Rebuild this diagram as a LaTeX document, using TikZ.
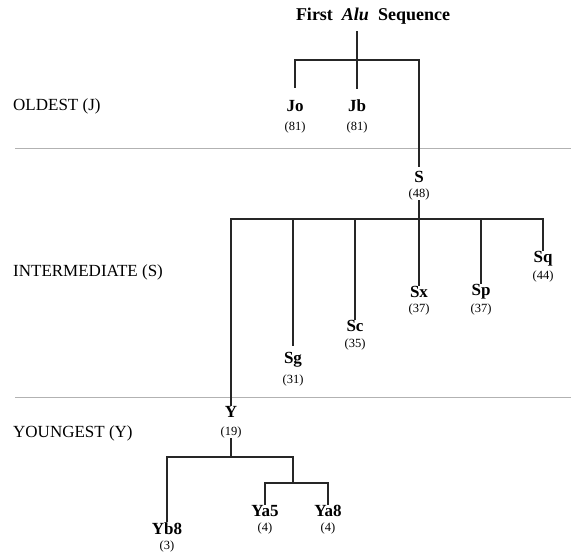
\documentclass[tikz,border=0pt]{standalone}
\usepackage{fontspec}
\setmainfont{Liberation Serif}
\begin{document}
\begin{tikzpicture}[x=1pt,y=-1pt,
  tree/.style={line width=1.5pt,draw=black!85},
  sep/.style={line width=0.7pt,draw=black!30},
  taxon/.style={font=\fontsize{17}{17}\selectfont\bfseries,inner sep=0.5pt},
  count/.style={font=\fontsize{12.5}{12.5}\selectfont,inner sep=0.5pt},
  level/.style={font=\fontsize{17}{17}\selectfont,anchor=west,inner sep=0pt}]
\useasboundingbox (0,0) rectangle (571,553);
% separators
\draw[sep] (15,148) -- (571,148);
\draw[sep] (15,397) -- (571,397);
% level labels
\node[level] (lj) at (13,106) {OLDEST (J)};
\node[level] (ls) at (13,272) {INTERMEDIATE (S)};
\node[level] (ly) at (13,433) {YOUNGEST (Y)};
% title
\node[font=\fontsize{18}{18}\selectfont\bfseries,inner sep=1pt] (title) at (373,16) {First\ \ \textit{Alu}\ \ Sequence};
% taxa
\node[taxon] (jo) at (295,106) {Jo};   \node[count] (jo n) at (295,127) {(81)};
\node[taxon] (jb) at (357,106) {Jb};   \node[count] (jb n) at (357,127) {(81)};
\node[taxon] (s)  at (419,177) {S};    \node[count] (s n)  at (419,194) {(48)};
\node[taxon] (sq) at (543,259) {Sq};   \node[count] (sq n) at (543,276) {(44)};
\node[taxon] (sx) at (419,292) {Sx};   \node[count] (sx n) at (419,309) {(37)};
\node[taxon] (sp) at (481,292) {Sp};   \node[count] (sp n) at (481,309) {(37)};
\node[taxon] (sc) at (355,326) {Sc};   \node[count] (sc n) at (355,344) {(35)};
\node[taxon] (sg) at (293,360) {Sg};   \node[count] (sg n) at (293,380) {(31)};
\node[taxon] (y)  at (231,412) {Y};    \node[count] (y n)  at (231,432) {(19)};
\node[taxon] (ya5) at (265,511) {Ya5}; \node[count] (ya5 n) at (265,528) {(4)};
\node[taxon] (ya8) at (328,511) {Ya8}; \node[count] (ya8 n) at (328,528) {(4)};
\node[taxon] (yb8) at (167,529) {Yb8}; \node[count] (yb8 n) at (167,546) {(3)};
% J level
\coordinate (jl) at (295,60);
\coordinate (jr) at (419,60);
\draw[tree,shorten <=12pt,shorten >=4pt] (jo.north) -- (jl) -- (jr) -- (s.north);
\draw[tree,shorten <=6pt,shorten >=10pt] (title.south -| jb.north) -- (jb.north);
% S level
\coordinate (sl) at (231,219);
\coordinate (sr) at (543,219);
\draw[tree] (y.north) -- (sl) -- (sr) -- (sq.north);
\draw[tree] (s n.south) -- (sx.north);
\draw[tree,shorten <=6pt] (sg.north) -- (sg.north |- sl);
\draw[tree] (sc.north) -- (sc.north |- sl);
\draw[tree] (sp.north) -- (sp.north |- sl);
% Y level
\coordinate (yl) at (167,457);
\coordinate (yr) at (293,457);
\coordinate (ym) at (231,457);
\draw[tree] (y n.south) -- (ym);
\draw[tree] (yb8.north) -- (yl) -- (yr) -- (293,483);
\coordinate (al) at (265,483);
\coordinate (ar) at (328,483);
\draw[tree] (ya5.north) -- (al) -- (ar) -- (ya8.north);
\end{tikzpicture}
\end{document}
